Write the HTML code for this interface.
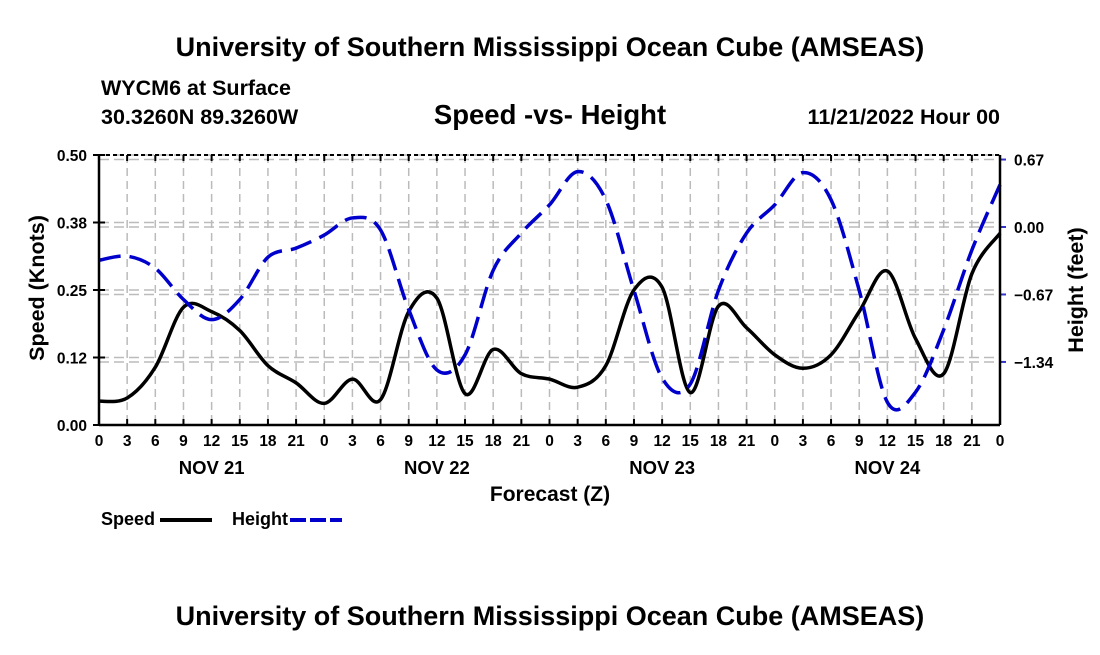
<!DOCTYPE html>
<html><head><meta charset="utf-8"><style>
body{margin:0;background:#fff;}
svg text{font-family:"Liberation Sans",Arial,sans-serif;font-weight:bold;fill:#000;}
</style></head><body>
<svg id="c" width="1100" height="650" viewBox="0 0 1100 650" xmlns="http://www.w3.org/2000/svg">
<text x="550" y="56" font-size="27" text-anchor="middle">University of Southern Mississippi Ocean Cube (AMSEAS)</text>
<text x="101" y="95" font-size="21.5">WYCM6 at Surface</text>
<text x="101" y="124" font-size="21.5">30.3260N  89.3260W</text>
<text x="550" y="124" font-size="27.5" text-anchor="middle">Speed -vs- Height</text>
<text x="1000" y="124" font-size="21.5" text-anchor="end">11/21/2022 Hour 00</text>
<text x="550" y="625" font-size="27" text-anchor="middle">University of Southern Mississippi Ocean Cube (AMSEAS)</text>
<g id="grid"></g>
<g id="marks"></g>
<g id="axes"></g>
<text x="550" y="501" font-size="21" text-anchor="middle">Forecast (Z)</text>
<text transform="translate(44,288) rotate(-90)" font-size="21.5" text-anchor="middle">Speed (Knots)</text>
<text transform="translate(1083,290) rotate(-90)" font-size="21.5" text-anchor="middle">Height (feet)</text>
<g>
<text x="101" y="525" font-size="18">Speed</text>
<line x1="160" y1="520" x2="212" y2="520" stroke="#000" stroke-width="4"/>
<text x="232" y="525" font-size="18">Height</text>
<line x1="290" y1="520" x2="342" y2="520" stroke="#00c" stroke-width="4" stroke-dasharray="16,4"/>
</g>
</svg>
<script>
const hours=[0,3,6,9,12,15,18,21,24,27,30,33,36,39,42,45,48,51,54,57,60,63,66,69,72,75,78,81,84,87,90,93,96];
const speed=[0.044,0.05,0.107,0.218,0.21,0.175,0.11,0.078,0.04,0.085,0.047,0.21,0.235,0.058,0.14,0.095,0.085,0.07,0.11,0.25,0.255,0.06,0.22,0.18,0.13,0.105,0.13,0.21,0.285,0.16,0.095,0.28,0.355];
const height=[-0.33,-0.29,-0.41,-0.72,-0.92,-0.72,-0.30,-0.21,-0.08,0.09,-0.03,-0.82,-1.42,-1.27,-0.43,-0.06,0.22,0.55,0.27,-0.63,-1.5,-1.56,-0.63,-0.06,0.22,0.54,0.27,-0.63,-1.74,-1.64,-1.02,-0.23,0.42];
const leftTicks=[0,0.125,0.25,0.375,0.5];
const leftLabels=["0.00","0.12","0.25","0.38","0.50"];
const rightTicks=[-1.34,-0.67,0,0.67];
const rightLabels=["\u22121.34","\u22120.67","0.00","0.67"];
const dateLabels=["NOV 21","NOV 22","NOV 23","NOV 24"];
const L=99,R=1000,T=155,B=425;
const xs=h=>L+(h/96)*(R-L);
const ys=v=>B-(v/0.5)*(B-T);
const yh=v=>227-v*100.7;
const NS="http://www.w3.org/2000/svg";
function mk(tag,attrs,parent){const e=document.createElementNS(NS,tag);for(const k in attrs)e.setAttribute(k,attrs[k]);parent.appendChild(e);return e;}
const grid=document.getElementById('grid'),marks=document.getElementById('marks'),axes=document.getElementById('axes');
hours.forEach(h=>{
  const g=mk('line',{x1:xs(h),x2:xs(h),y1:T,y2:B,stroke:'#bbb','stroke-width':1.5,'stroke-dasharray':'8,5'},grid);
  
  
  const t=mk('line',{x1:xs(h),x2:xs(h),y1:B,y2:B-6,stroke:'#000','stroke-width':2},axes);
  
  
  const t2=mk('line',{x1:xs(h),x2:xs(h),y1:T,y2:T+6,stroke:'#000','stroke-width':2},axes);
  
  
  const lb=mk('text',{x:xs(h),y:B+21,'font-size':15.5,'text-anchor':'middle'},axes);
  lb.textContent=String(h%24);
  
  
});
dateLabels.forEach((d,i)=>{
  const e=mk('text',{x:xs(12+24*i),y:B+49,'font-size':18.5,'text-anchor':'middle'},axes);
  e.textContent=d;
  
  
});
leftTicks.forEach((v,i)=>{
  const g=mk('line',{x1:L,x2:R,y1:ys(v),y2:ys(v),stroke:'#bbb','stroke-width':1.5,'stroke-dasharray':'10,5'},grid);
  
  
  const t=mk('line',{x1:L-6,x2:L+6,y1:ys(v),y2:ys(v),stroke:'#000','stroke-width':2},axes);
  
  
  const lb=mk('text',{x:L-12,y:ys(v)+6,'font-size':15.5,'text-anchor':'end'},axes);
  lb.textContent=leftLabels[i];
  
  
});
rightTicks.forEach((v,i)=>{
  const g=mk('line',{x1:L,x2:R,y1:yh(v),y2:yh(v),stroke:'#bbb','stroke-width':1.5,'stroke-dasharray':'10,5'},grid);
  
  
  const t=mk('line',{x1:R,x2:R+6,y1:yh(v),y2:yh(v),stroke:'#33c','stroke-width':2},axes);
  
  
  const lb=mk('text',{x:R+14,y:yh(v)+6,'font-size':15.5},axes);
  lb.textContent=rightLabels[i];
  
  
});
function smooth(pts){
  let d='M'+pts[0][0]+','+pts[0][1];
  for(let i=0;i<pts.length-1;i++){
    const p0=pts[Math.max(0,i-1)],p1=pts[i],p2=pts[i+1],p3=pts[Math.min(pts.length-1,i+2)];
    const c1=[p1[0]+(p2[0]-p0[0])/6,p1[1]+(p2[1]-p0[1])/6];
    const c2=[p2[0]-(p3[0]-p1[0])/6,p2[1]-(p3[1]-p1[1])/6];
    d+=' C'+c1[0]+','+c1[1]+' '+c2[0]+','+c2[1]+' '+p2[0]+','+p2[1];
  }
  return d;
}
const sp=mk('path',{d:smooth(hours.map((h,i)=>[xs(h),ys(speed[i])])),fill:'none',stroke:'#000','stroke-width':3.5},marks);


const hp=mk('path',{d:smooth(hours.map((h,i)=>[xs(h),yh(height[i])])),fill:'none',stroke:'#00c','stroke-width':3.5,'stroke-dasharray':'22,9'},marks);


const f1=mk('line',{x1:L,x2:L,y1:T,y2:B,stroke:'#000','stroke-width':2.5},axes);


const f2=mk('line',{x1:R,x2:R,y1:T,y2:B,stroke:'#000','stroke-width':2.5},axes);


const f3=mk('line',{x1:L,x2:R,y1:B,y2:B,stroke:'#000','stroke-width':2.5},axes);


const f4=mk('line',{x1:L,x2:R,y1:T,y2:T,stroke:'#000','stroke-width':2,'stroke-dasharray':'4,3'},axes);


</script>
</body></html>
